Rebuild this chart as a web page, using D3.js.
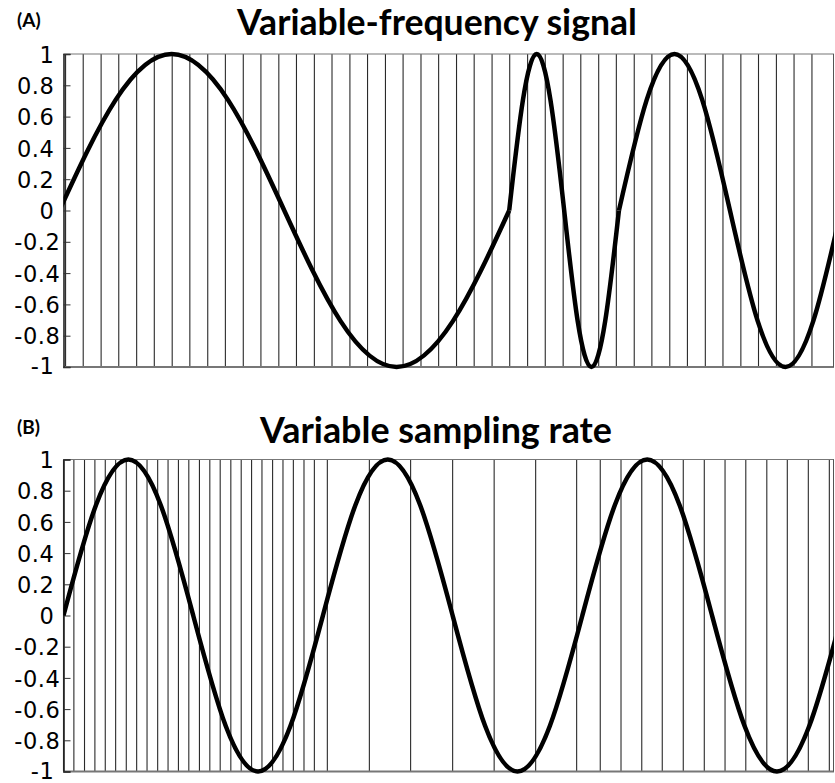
<!DOCTYPE html>
<html>
<head>
<meta charset="utf-8">
<script src="https://cdn.jsdelivr.net/npm/d3@7"></script>
<style>
  html, body { margin: 0; padding: 0; background: #fff; }
  svg { display: block; }
</style>
</head>
<body>
<svg id="chart" width="835" height="783"></svg>
<script>
// ---------------- DATA (time in s, amplitude in a.u.) ----------------
const xDomain = [0, 2.97];
const yTicks = [1, 0.8, 0.6, 0.4, 0.2, 0, -0.2, -0.4, -0.6, -0.8, -1];
const yTickLabels = ["1", "0.8", "0.6", "0.4", "0.2", "0", "-0.2", "-0.4", "-0.6", "-0.8", "-1"];

const panelLabels = ["(A)", "(B)"];
const panelTitles = ["Variable-frequency signal", "Variable sampling rate"];

// Panel A: signal key points (zeros, ±0.707, extrema), three segments of different frequency
const aSeg1T = [-0.016, 0.201, 0.417, 0.634, 0.851, 1.068, 1.284, 1.501, 1.718];
const aSeg2T = [1.718, 1.771, 1.824, 1.877, 1.930, 1.982, 2.035, 2.088, 2.141];
const aSeg3T = [2.141, 2.248, 2.355, 2.462, 2.569, 2.676, 2.783, 2.890, 2.997];
const aSegV  = [0, 0.707, 1, 0.707, 0, -0.707, -1, -0.707, 0];

// Panel A: uniform sampling instants
const aSamples = [0.008, 0.076, 0.145, 0.213, 0.282, 0.350, 0.419, 0.487, 0.556, 0.624,
  0.693, 0.761, 0.830, 0.898, 0.967, 1.035, 1.104, 1.172, 1.241, 1.309, 1.378, 1.446,
  1.515, 1.583, 1.652, 1.720, 1.789, 1.857, 1.926, 1.994, 2.063, 2.131, 2.200, 2.268,
  2.337, 2.405, 2.474, 2.542, 2.611, 2.679, 2.748, 2.816, 2.885];

// Panel B: constant 1 Hz signal key points
const bSigT = [0, 0.125, 0.25, 0.375, 0.5, 0.625, 0.75, 0.875, 1.0, 1.125, 1.25, 1.375,
  1.5, 1.625, 1.75, 1.875, 2.0, 2.125, 2.25, 2.375, 2.5, 2.625, 2.75, 2.875, 3.0];
const bSigV = [0, 0.707, 1, 0.707, 0, -0.707, -1, -0.707, 0, 0.707, 1, 0.707,
  0, -0.707, -1, -0.707, 0, 0.707, 1, 0.707, 0, -0.707, -1, -0.707, 0];

// Panel B: variable sampling instants
const bSamples = [0, 0.040, 0.081, 0.121, 0.161, 0.201, 0.242, 0.282, 0.322, 0.363,
  0.403, 0.443, 0.483, 0.524, 0.564, 0.604, 0.645, 0.685, 0.725, 0.765, 0.806, 0.846,
  0.886, 0.927, 0.967, 1.017, 1.179, 1.338, 1.500, 1.660, 1.820, 1.978, 2.069, 2.149,
  2.229, 2.308, 2.389, 2.470, 2.550, 2.630, 2.711, 2.790, 2.871, 2.952];

// ---------------- LAYOUT ----------------
const svg = d3.select("#chart");
svg.append("rect").attr("width", 835).attr("height", 783).attr("fill", "#fff");

const plotLeft = 63.5, plotRight = 834;
const panels = [
  { top: 54, bottom: 367, labelY: 27, titleY: 35, titleX: 437, titleW: 400,
    segments: [aSeg1T, aSeg2T, aSeg3T].map(ts => ts.map((t, i) => [t, aSegV[i]])),
    samples: aSamples },
  { top: 459.5, bottom: 771.5, labelY: 434, titleY: 443, titleX: 436, titleW: 352,
    segments: [bSigT.map((t, i) => [t, bSigV[i]])],
    samples: bSamples }
];

const x = d3.scaleLinear().domain(xDomain).range([plotLeft, plotRight]);

panels.forEach((p, pi) => {
  const y = d3.scaleLinear().domain([-1, 1]).range([p.bottom, p.top]);
  const g = svg.append("g");

  const clipId = "clip" + pi;
  svg.append("defs").append("clipPath").attr("id", clipId)
    .append("rect").attr("x", plotLeft).attr("y", p.top - 4)
    .attr("width", plotRight - plotLeft).attr("height", p.bottom - p.top + 8);

  // sampling lines
  g.append("g").selectAll("line").data(p.samples).join("line")
    .attr("x1", d => x(d)).attr("x2", d => x(d))
    .attr("y1", y(1)).attr("y2", y(-1))
    .attr("stroke", "#2a2a2a").attr("stroke-width", 1.1);

  // frame
  g.append("line").attr("x1", plotLeft).attr("x2", plotRight)
    .attr("y1", y(1)).attr("y2", y(1)).attr("stroke", "#777").attr("stroke-width", 1.2);
  g.append("line").attr("x1", plotLeft).attr("x2", plotRight)
    .attr("y1", y(-1)).attr("y2", y(-1)).attr("stroke", "#777").attr("stroke-width", 2);
  g.append("line").attr("x1", plotRight - 0.5).attr("x2", plotRight - 0.5)
    .attr("y1", y(1)).attr("y2", y(-1)).attr("stroke", "#555").attr("stroke-width", 1);

  // y axis (inward ticks)
  const yAxis = d3.axisLeft(y).tickValues(yTicks).tickSize(-7).tickPadding(0)
    .tickFormat((d, i) => yTickLabels[i]);
  const ax = g.append("g").attr("transform", `translate(${plotLeft},0)`).call(yAxis);
  ax.select(".domain").attr("stroke", "#222").attr("stroke-width", 1.6);
  ax.selectAll(".tick line").attr("stroke", "#333").attr("stroke-width", 1);
  ax.selectAll(".tick text")
    .attr("font-family", "DejaVu Sans, Verdana, sans-serif")
    .attr("font-size", 22.5)
    .attr("letter-spacing", 0.6)
    .attr("fill", "#000")
    .attr("text-anchor", "end")
    .attr("dy", d => d === -1 ? "0.3em" : "0.36em")
    .attr("x", d => (d < 0 && d > -1) ? -3 : -9);

  // signal
  const line = d3.line().x(d => x(d[0])).y(d => y(d[1])).curve(d3.curveNatural);
  g.append("g").attr("clip-path", `url(#${clipId})`)
    .selectAll("path").data(p.segments).join("path")
    .attr("d", line)
    .attr("fill", "none").attr("stroke", "#000").attr("stroke-width", 4.5)
    .attr("stroke-linejoin", "round").attr("stroke-linecap", "butt");

  // panel label
  svg.append("text").attr("x", 17).attr("y", p.labelY)
    .attr("font-family", "Lato, sans-serif").attr("font-weight", 700)
    .attr("font-size", 19).attr("fill", "#000").text(panelLabels[pi]);

  // title, fitted to measured width
  const t = svg.append("text").attr("x", p.titleX).attr("y", p.titleY)
    .attr("text-anchor", "middle")
    .attr("font-family", "Lato, sans-serif").attr("font-weight", 700)
    .attr("font-size", 32).attr("fill", "#000").text(panelTitles[pi]);
  const w = t.node().getComputedTextLength();
  t.attr("font-size", 32 * p.titleW / w);
});
</script>
</body>
</html>
